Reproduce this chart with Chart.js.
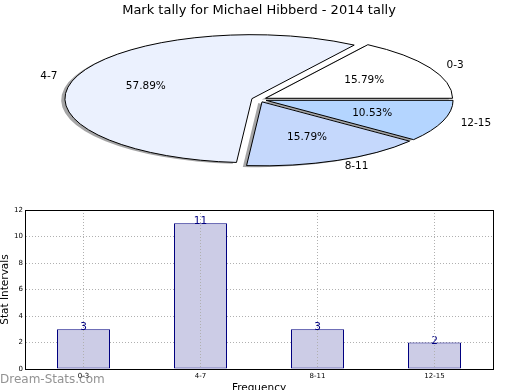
<!DOCTYPE html>
<html>
<head>
<meta charset="utf-8">
<script src="https://cdn.jsdelivr.net/npm/chart.js@4.4.0/dist/chart.umd.min.js"></script>
<style>
  html, body { margin: 0; padding: 0; background: #fff; overflow: hidden; }
  #wrap { position: relative; width: 520px; height: 390px; overflow: hidden; }
  #pieBox { position: absolute; left: 0; top: 0; width: 520px; height: 200px; }
  #barBox { position: absolute; left: 0; top: 200px; width: 520px; height: 200px; }
  #mark { position: absolute; left: 0; top: 373px; font: 12px "DejaVu Sans"; line-height: 12px; color: rgba(110,110,110,0.75); }
</style>
</head>
<body>
<div id="wrap">
  <div id="pieBox"><canvas id="pieChart"></canvas></div>
  <div id="barBox"><canvas id="barChart"></canvas></div>
  <div id="mark">Dream-Stats.com</div>
</div>
<script>
const categories = ['0-3', '4-7', '8-11', '12-15'];
const tally = [3, 11, 3, 2];
const sliceColors = ['#ffffff', '#ebf1fe', '#c5d8fc', '#b4d5ff'];

const total = tally.reduce((a, b) => a + b, 0);

// matplotlib goes counter-clockwise from 3 o'clock, chart.js goes clockwise -> reverse
const pieLabels = categories.slice().reverse();
const pieValues = tally.slice().reverse();
const pieColors = sliceColors.slice().reverse();

// draws the pie squashed into an ellipse, exploded, with shadows and labels
const ellipsePie = {
    id: 'ellipsePie',
    beforeDatasetsDraw(chart, args, opts) {
        const ctx = chart.ctx;
        const k = opts.squash;
        const parts = chart.getDatasetMeta(0).data.map(arc => {
            const p = arc.getProps(['x', 'y', 'startAngle', 'endAngle', 'outerRadius'], true);
            return { p, mid: (p.startAngle + p.endAngle) / 2, ex: opts.explode * p.outerRadius, color: arc.options.backgroundColor };
        });

        const path = (s, dx, dy) => {
            ctx.save();
            ctx.translate(s.p.x, s.p.y);
            ctx.scale(1, k);
            ctx.translate(Math.cos(s.mid) * s.ex + dx, Math.sin(s.mid) * s.ex + dy);
            ctx.beginPath();
            ctx.moveTo(0, 0);
            ctx.arc(0, 0, s.p.outerRadius, s.p.startAngle, s.p.endAngle);
            ctx.closePath();
            ctx.restore();
        };

        // shadows go under every wedge
        parts.forEach(s => {
            const sh = opts.shadow * s.p.outerRadius;
            path(s, -sh, sh);
            ctx.fillStyle = 'rgba(75,75,77,0.5)';
            ctx.fill();
        });
        parts.forEach(s => {
            path(s, 0, 0);
            ctx.fillStyle = s.color;
            ctx.fill();
            ctx.lineWidth = 1;
            ctx.strokeStyle = '#000';
            ctx.stroke();
        });

        ctx.save();
        ctx.font = '10.5px "DejaVu Sans"';
        ctx.fillStyle = '#000';
        ctx.textBaseline = 'middle';
        parts.forEach((s, i) => {
            const c = Math.cos(s.mid), sn = Math.sin(s.mid);
            const r = s.p.outerRadius;
            const pct = (pieValues[i] / total * 100).toFixed(2) + '%';
            ctx.textAlign = 'center';
            ctx.fillText(pct, s.p.x + c * (s.ex + 0.6 * r), s.p.y + k * sn * (s.ex + 0.6 * r));
            ctx.textAlign = c > 0 ? 'left' : 'right';
            ctx.fillText(pieLabels[i], s.p.x + c * (s.ex + 1.1 * r), s.p.y + k * sn * (s.ex + 1.1 * r));
        });
        ctx.restore();
        return false;
    }
};

new Chart(document.getElementById('pieChart'), {
    type: 'pie',
    data: {
        labels: pieLabels,
        datasets: [{ data: pieValues, backgroundColor: pieColors, borderWidth: 0 }]
    },
    options: {
        responsive: true,
        maintainAspectRatio: false,
        animation: false,
        events: [],
        rotation: 90,
        radius: 187,
        layout: { padding: { top: 0, bottom: 19.6, left: 0, right: 2 } },
        plugins: {
            legend: { display: false },
            tooltip: { enabled: false },
            title: {
                display: true,
                text: 'Mark tally for Michael Hibberd - 2014 tally',
                color: '#000',
                font: { family: 'DejaVu Sans', size: 13, weight: 'normal' },
                padding: { top: 3, bottom: 0 }
            },
            ellipsePie: { squash: 64 / 187, explode: 0.04, shadow: 0.02 }
        }
    },
    plugins: [ellipsePie]
});

// numbers above the bars
const barValues = {
    id: 'barValues',
    afterDatasetsDraw(chart) {
        const ctx = chart.ctx;
        ctx.save();
        ctx.font = '10.5px "DejaVu Sans"';
        ctx.fillStyle = '#000080';
        ctx.textAlign = 'center';
        ctx.textBaseline = 'alphabetic';
        chart.getDatasetMeta(0).data.forEach((bar, i) => {
            ctx.fillText(tally[i], bar.x, bar.y + 1);
        });
        ctx.restore();
    }
};

// black box around the plot area
const frame = {
    id: 'frame',
    afterDraw(chart) {
        const { ctx, chartArea: a } = chart;
        ctx.save();
        ctx.strokeStyle = '#000';
        ctx.lineWidth = 1;
        ctx.strokeRect(Math.round(a.left) + 0.5, Math.round(a.top) + 0.5, Math.round(a.right - a.left), Math.round(a.bottom - a.top));
        ctx.restore();
    }
};

const tickFont = { family: 'DejaVu Sans', size: 7 };
const titleFont = { family: 'DejaVu Sans', size: 10.5, lineHeight: 1 };

new Chart(document.getElementById('barChart'), {
    type: 'bar',
    data: {
        labels: categories,
        datasets: [{
            data: tally,
            backgroundColor: '#cccce6',
            borderColor: '#000080',
            borderWidth: 1,
            borderSkipped: false,
            inflateAmount: 0,
            barThickness: 53
        }]
    },
    options: {
        responsive: true,
        maintainAspectRatio: false,
        animation: false,
        events: [],
        layout: { padding: { top: 10, right: 27, left: 0, bottom: 0 } },
        plugins: { legend: { display: false }, tooltip: { enabled: false } },
        scales: {
            x: {
                grid: { offset: false, z: 1, color: '#b0b0b0', drawTicks: false },
                border: { display: true, color: '#000', z: 2, dash: [1, 2] },
                ticks: { font: tickFont, color: '#000', padding: 3 },
                title: { display: true, text: 'Frequency', color: '#000', font: titleFont, padding: { top: 0, bottom: 6 } },
                afterFit(s) { s.height = 31; }
            },
            y: {
                min: 0,
                max: 12,
                grid: { color: '#b0b0b0', drawTicks: false },
                border: { display: true, color: '#000', z: 2, dash: [1, 2] },
                ticks: { stepSize: 2, font: tickFont, color: '#000', padding: 2 },
                title: { display: true, text: 'Stat Intervals', color: '#000', font: titleFont, padding: { top: 0, bottom: 0 } },
                afterFit(s) { s.width = 25; }
            }
        }
    },
    plugins: [barValues, frame]
});
</script>
</body>
</html>
